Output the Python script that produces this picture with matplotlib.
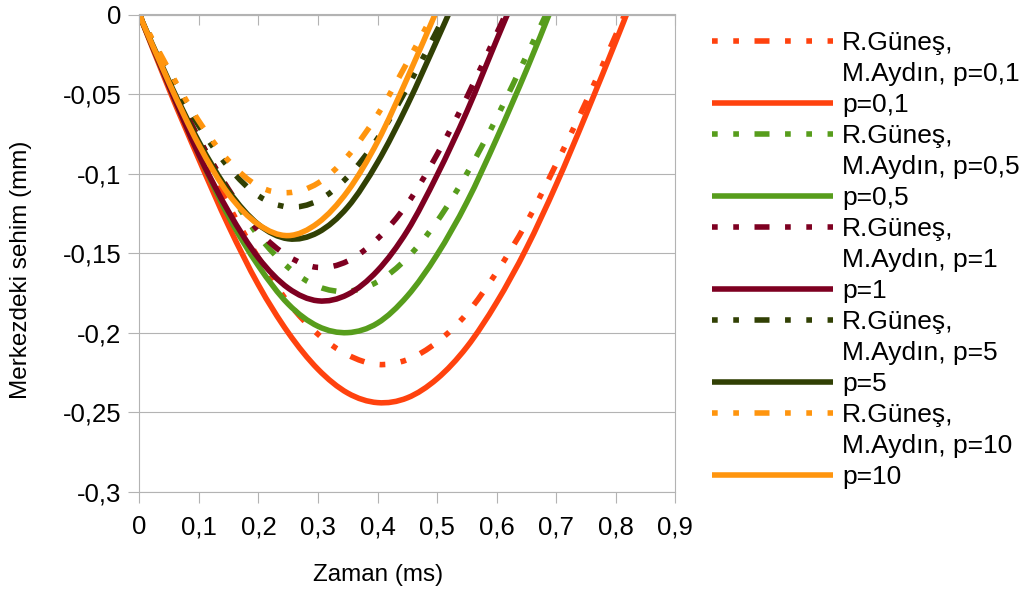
import matplotlib
matplotlib.use("Agg")
import matplotlib.pyplot as plt
from matplotlib.path import Path
from matplotlib.patches import PathPatch

plt.rcParams["font.family"] = ["Liberation Sans", "DejaVu Sans"]
plt.rcParams["lines.scale_dashes"] = False

# zaman ekseni (ms), tum seriler icin ortak okuma noktalari
zaman = [0, 0.05, 0.10, 0.15, 0.20, 0.25, 0.30, 0.35, 0.40,
         0.45, 0.50, 0.55, 0.60, 0.65, 0.70, 0.75, 0.80]

# merkezdeki sehim (mm)
gunes_p01 = [0, -0.042, -0.083, -0.120, -0.153, -0.181, -0.201, -0.214, -0.220,
             -0.217, -0.206, -0.188, -0.162, -0.131, -0.094, -0.055, -0.013]
sehim_p01 = [0, -0.047, -0.091, -0.133, -0.170, -0.200, -0.223, -0.238, -0.244,
             -0.241, -0.229, -0.209, -0.181, -0.147, -0.107, -0.063, -0.017]
gunes_p05 = [0, -0.040, -0.078, -0.111, -0.139, -0.159, -0.171, -0.174, -0.168,
             -0.153, -0.130, -0.100, -0.065, -0.026]
sehim_p05 = [0, -0.045, -0.088, -0.127, -0.158, -0.182, -0.196, -0.200, -0.194,
             -0.177, -0.151, -0.118, -0.078, -0.035]
gunes_p1 = [0, -0.040, -0.078, -0.110, -0.136, -0.152, -0.159, -0.155, -0.141,
            -0.119, -0.088, -0.052, -0.012]
sehim_p1 = [0, -0.045, -0.088, -0.124, -0.153, -0.172, -0.180, -0.176, -0.161,
            -0.136, -0.101, -0.061, -0.016]
gunes_p5 = [0, -0.037, -0.070, -0.096, -0.114, -0.121, -0.117, -0.102, -0.078,
            -0.046, -0.010]
sehim_p5 = [0, -0.042, -0.080, -0.111, -0.132, -0.141, -0.137, -0.121, -0.093,
            -0.057, -0.016]
gunes_p10 = [0, -0.035, -0.067, -0.092, -0.108, -0.112, -0.106, -0.089, -0.063,
             -0.030]
sehim_p10 = [0, -0.043, -0.082, -0.113, -0.132, -0.139, -0.131, -0.111, -0.080,
             -0.040]

# sehimin tekrar sifira dondugu an (ms)
son_zaman = [0.815, 0.818, 0.683, 0.688, 0.615, 0.618, 0.514, 0.519, 0.493, 0.4965]

seriler = [gunes_p01, sehim_p01, gunes_p05, sehim_p05, gunes_p1, sehim_p1,
           gunes_p5, sehim_p5, gunes_p10, sehim_p10]
renkler = ["#ff420e", "#ff420e", "#579d1c", "#579d1c", "#7e0021", "#7e0021",
           "#314004", "#314004", "#ff950e", "#ff950e"]
p_degerleri = ["0,1", "0,5", "1", "5", "10"]

x_ticks = [0, 0.1, 0.2, 0.3, 0.4, 0.5, 0.6, 0.7, 0.8, 0.9]
x_etiket = ["0", "0,1", "0,2", "0,3", "0,4", "0,5", "0,6", "0,7", "0,8", "0,9"]
y_ticks = [0, -0.05, -0.1, -0.15, -0.2, -0.25, -0.3]
y_etiket = ["0", "-0,05", "-0,1", "-0,15", "-0,2", "-0,25", "-0,3"]

GRI = "#b3b3b3"
LW = 4.0
KESIK = (0, (4.1, 11.2, 4.1, 11.2, 10.8, 11.2))  # nokta nokta cizgi


def yumusak_egri(x, y):
    """Noktalardan gecen kubik (Catmull-Rom) Bezier yolu."""
    n = len(x)
    verts = [(x[0], y[0])]
    codes = [Path.MOVETO]
    for i in range(n - 1):
        a = max(i - 1, 0)
        d = min(i + 2, n - 1)
        c1 = (x[i] + (x[i + 1] - x[a]) / 6, y[i] + (y[i + 1] - y[a]) / 6)
        c2 = (x[i + 1] - (x[d] - x[i]) / 6, y[i + 1] - (y[d] - y[i]) / 6)
        verts += [c1, c2, (x[i + 1], y[i + 1])]
        codes += [Path.CURVE4] * 3
    return Path(verts, codes)


W, H = 1029, 599
fig = plt.figure(figsize=(W / 100, H / 100), dpi=100)
ax = fig.add_axes([139.3 / W, 1 - 491.7 / H, 536 / W, 477.2 / H])

for i, degerler in enumerate(seriler):
    x = zaman[:len(degerler)] + [son_zaman[i]]
    y = degerler + [0]
    ls = KESIK if i % 2 == 0 else "-"
    egri = PathPatch(yumusak_egri(x, y), fill=False, edgecolor=renkler[i],
                     lw=LW, ls=ls, capstyle="butt", joinstyle="round")
    ax.add_patch(egri)

ax.set_xlim(0, 0.9)
ax.set_ylim(-0.3, 0)
ax.set_xticks(x_ticks)
ax.set_xticklabels(x_etiket)
ax.set_yticks(y_ticks)
ax.set_yticklabels(y_etiket)
ax.tick_params(axis="both", color=GRI, width=0.8, length=8, labelsize=18.5)
ax.tick_params(axis="x", pad=9)
ax.tick_params(axis="y", pad=5)
ax.yaxis.grid(True, color=GRI, lw=0.8)
ax.set_axisbelow(True)
for sp in ax.spines.values():
    sp.set_color(GRI)
    sp.set_linewidth(0.8)

# ust kenardaki ice dogru tik isaretleri
ust = ax.secondary_xaxis("top")
ust.set_xticks(x_ticks)
ust.tick_params(direction="in", length=8, color=GRI, width=0.8, labeltop=False)
ust.spines["top"].set_color(GRI)
ust.spines["top"].set_linewidth(0.8)

fig.text(378 / W, 1 - 575 / H, "Zaman (ms)", fontsize=17.5,
         ha="center", va="center")
fig.text(21 / W, 1 - 270 / H, "Merkezdeki sehim (mm)", fontsize=17.5,
         rotation=90, ha="center", va="center")

# lejant: her satir 31 px
lax = fig.add_axes([0, 0, 1, 1])
lax.set_xlim(0, W)
lax.set_ylim(H, 0)
lax.axis("off")
lax.patch.set_visible(False)
satir = 0
for k, p in enumerate(p_degerleri):
    for j, metin in enumerate(["R.Güneş,", "M.Aydın, p=" + p, "p=" + p]):
        y = 41 + 31 * satir
        if j == 0:
            lax.plot([712, 833], [y, y], color=renkler[2 * k], lw=LW, ls=KESIK,
                     dash_capstyle="butt")
        elif j == 2:
            lax.plot([712, 833], [y, y], color=renkler[2 * k + 1], lw=LW,
                     solid_capstyle="butt")
        lax.text(842, y + 9, metin, fontsize=19, va="baseline", ha="left")
        satir += 1

fig.savefig("out.png", dpi=100)
